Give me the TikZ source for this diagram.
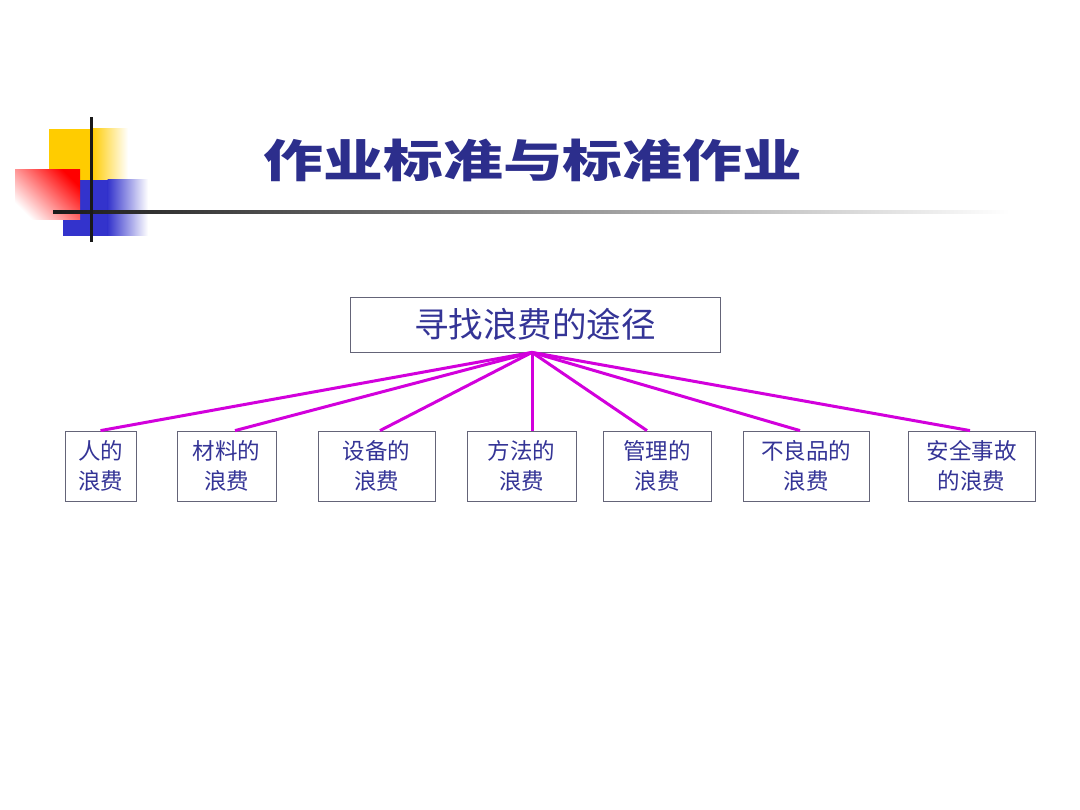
\documentclass[tikz,border=0pt]{standalone}
\usepackage{fontspec}
\newfontfamily\cjk{Noto Sans CJK SC}
\newfontfamily\cjktitle[FakeStretch=1.33]{Noto Sans CJK SC}
\definecolor{titleblue}{RGB}{44,46,140}
\definecolor{textblue}{RGB}{52,52,150}
\definecolor{boxgray}{RGB}{100,100,120}
\definecolor{linkmag}{RGB}{210,0,220}
\definecolor{decoyellow}{RGB}{255,204,0}
\definecolor{decoblue}{RGB}{51,51,204}
\tikzset{
  wastebox/.style={draw=boxgray, line width=0.8pt, fill=white, minimum height=70pt,
    inner sep=0pt, align=center, text=textblue,
    font=\cjk\fontsize{22.5}{29.5}\selectfont},
  mainbox/.style={draw=boxgray, line width=0.8pt, minimum width=370pt, minimum height=55pt,
    inner sep=0pt, text=textblue, font=\cjk\fontsize{34.5}{38}\selectfont},
  link/.style={draw=linkmag, line width=3pt}
}
\begin{document}
\begin{tikzpicture}[x=1pt,y=-1pt]
\useasboundingbox (0,0) rectangle (1080,810);
% decoration
\fill[decoyellow] (49,129) rectangle (92,180);
\shade[left color=decoyellow, right color=white] (91.5,129) rectangle (128,180);
\fill[decoblue] (63,180) rectangle (108,236);
\shade[left color=decoblue, right color=white] (107.5,180) rectangle (148,236);
\shade[left color=red, right color=white, shading angle=-45] (15,170) rectangle (80,220);
\shade[left color=black!90, middle color=black!45, right color=white] (53,210.5) rectangle (1010,213.5);
\fill[black!90] (89.5,117) rectangle (92.5,242);
% title
\node[text=titleblue, font=\cjktitle\bfseries\fontsize{45}{50}\selectfont, inner sep=0pt] (title) at (533,160) {作业标准与标准作业};
% main box
\node[mainbox] (main) at (535,324.5) {寻找浪费的途径};
% bottom boxes
\node[wastebox, minimum width=71pt]  (b1) at (100.5,466) {人的\\浪费};
\node[wastebox, minimum width=99pt]  (b2) at (226.5,466) {材料的\\浪费};
\node[wastebox, minimum width=117pt] (b3) at (376.5,466) {设备的\\浪费};
\node[wastebox, minimum width=109pt] (b4) at (521.5,466) {方法的\\浪费};
\node[wastebox, minimum width=108pt] (b5) at (657,466)   {管理的\\浪费};
\node[wastebox, minimum width=126pt] (b6) at (806,466)   {不良品的\\浪费};
\node[wastebox, minimum width=127pt] (b7) at (971.5,466) {安全事故\\的浪费};
% connectors
\coordinate (hub) at ([xshift=-3pt]main.south);
\draw[link] (hub) -- (b1.north);
\draw[link] (hub) -- ([xshift=8.5pt]b2.north);
\draw[link] (hub) -- ([xshift=3.5pt]b3.north);
\draw[link] (hub) -- ([xshift=10.5pt]b4.north);
\draw[link] (hub) -- ([xshift=-10pt]b5.north);
\draw[link] (hub) -- ([xshift=-6pt]b6.north);
\draw[link] (hub) -- ([xshift=-1.5pt]b7.north);
\end{tikzpicture}
\end{document}
